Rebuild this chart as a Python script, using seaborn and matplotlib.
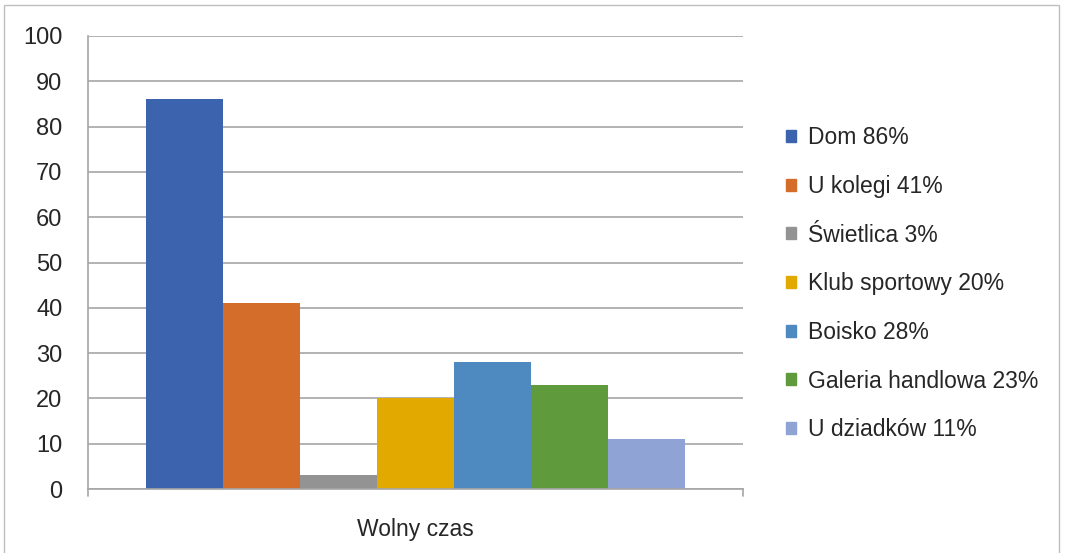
import matplotlib
matplotlib.use("Agg")
import matplotlib.pyplot as plt
from matplotlib.patches import Rectangle
import seaborn as sns
import pandas as pd

category = ["Wolny czas"]
labels = ["Dom 86%", "U kolegi 41%", "Świetlica 3%", "Klub sportowy 20%",
          "Boisko 28%", "Galeria handlowa 23%", "U dziadków 11%"]
values = [86, 41, 3, 20, 28, 23, 11]
colors = ["#3C64AE", "#D46D2A", "#939393", "#E2AA00", "#4E8AC0", "#5F9A3C", "#8FA4D4"]
yticks = [0, 10, 20, 30, 40, 50, 60, 70, 80, 90, 100]

df = pd.DataFrame({"cat": category * len(labels), "label": labels, "value": values})

sns.set_style("white")
plt.rcParams['font.family'] = ['Liberation Sans', 'DejaVu Sans']

fig = plt.figure(figsize=(10.65, 5.53), dpi=100)
ax = fig.add_axes([88 / 1065, 1 - 489 / 553, 655 / 1065, 453 / 553])

sns.barplot(data=df, x="cat", y="value", hue="label", hue_order=labels,
            palette=colors, width=0.824, gap=0, saturation=1, linewidth=0,
            ax=ax, legend=False)

ax.set_xlim(-0.5, 0.5)
ax.set_ylim(0, 100)
ax.set_yticks(yticks)
ax.set_yticklabels([str(v) for v in yticks], fontsize=17)
ax.set_xticks([0])
ax.set_xticklabels(category, fontsize=16.5)
ax.tick_params(axis="x", length=0, pad=21)
ax.tick_params(axis="y", length=6.5, width=1, color="#A6A6A6", pad=12, direction="out")
ax.set_xlabel("")
ax.set_ylabel("")
ax.set_axisbelow(True)
ax.yaxis.grid(True, color="#A6A6A6", linewidth=1.2)
for s in ["top", "right"]:
    ax.spines[s].set_visible(False)
for s in ["left", "bottom"]:
    ax.spines[s].set_color("#A6A6A6")
    ax.spines[s].set_linewidth(1.2)

# category boundary ticks on x axis
for xb in [-0.5, 0.5]:
    ax.plot([xb, xb], [0, -1.6], color="#A6A6A6", lw=1.2, clip_on=False)

handles = [Rectangle((0, 0), 1, 1, color=c) for c in colors]
fig.legend(handles, labels, loc="upper left", bbox_to_anchor=(777 / 1065, 1 - 117 / 553),
           frameon=False, fontsize=16.5, handlelength=0.45, handleheight=0.45,
           handletextpad=0.5, labelspacing=1.12, borderaxespad=0)

fig.patches.append(Rectangle((4 / 1065, -0.1), 1055 / 1065, 1.1 - 5 / 553,
                             transform=fig.transFigure, fill=False,
                             edgecolor="#BFBFBF", linewidth=1))

fig.savefig("out.png", dpi=100)
